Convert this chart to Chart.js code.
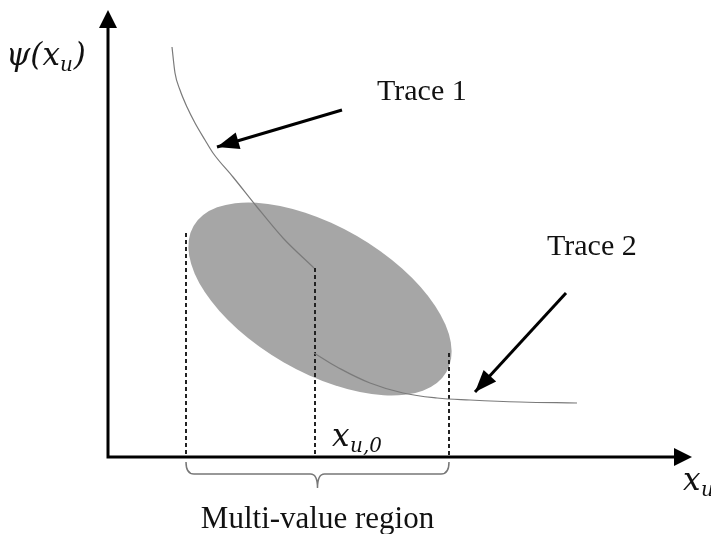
<!DOCTYPE html>
<html>
<head>
<meta charset="utf-8">
<script src="https://cdn.jsdelivr.net/npm/chart.js@4.4.1/dist/chart.umd.min.js"></script>
<style>
  html, body { margin: 0; padding: 0; background: #fff; }
  #wrap { width: 711px; height: 534px; position: relative; }
</style>
</head>
<body>
<div id="wrap"><canvas id="canvas"></canvas></div>
<script>
// values, in axis units (origin at the corner of the axes)
const trace1X = [64, 67, 72, 79, 87, 97, 105, 125, 149, 175, 206];
const trace1Y = [410, 384, 367, 350, 334, 317, 304, 280, 250, 219, 189];
const trace2X = [206, 229, 262, 295, 329, 362, 412, 469];
const trace2Y = [104, 90, 74, 64, 59, 57, 55, 54];

// vertical dashed guides: x position and top of each
const guideX = [78, 207, 341];
const guideTop = [224, 189, 104];

// shaded multi-value region (centre, semi axes, tilt in degrees)
const blobCentre = [212, 158];
const blobAxes = [146, 73];
const blobTilt = -30;

// pointer arrows [fromX, fromY, toX, toY]
const arrow1 = [234, 347, 109, 310];
const arrow2 = [458, 164, 367, 65];

const xMax = 584, yMax = 447;

const toPts = (xs, ys) => xs.map((x, i) => ({ x: x, y: ys[i] }));

const datasets = [
  { data: toPts(trace1X, trace1Y), borderColor: '#7a7a7a', borderWidth: 1.2, cubicInterpolationMode: 'monotone' },
  { data: toPts(trace2X, trace2Y), borderColor: '#7a7a7a', borderWidth: 1.2, tension: 0.4 }
];
guideX.forEach((x, i) => {
  datasets.push({ data: [{ x: x, y: guideTop[i] }, { x: x, y: 0 }], borderColor: '#222', borderWidth: 2, borderDash: [4, 3] });
});
[arrow1, arrow2].forEach(a => {
  datasets.push({ data: [{ x: a[0], y: a[1] }, { x: a[2], y: a[3] }], borderColor: '#000', borderWidth: 3 });
});
datasets.forEach(d => { d.showLine = true; d.pointRadius = 0; d.fill = false; });

function head(ctx, x0, y0, x1, y1, len, wid) {
  const ang = Math.atan2(y1 - y0, x1 - x0);
  ctx.save();
  ctx.translate(x1, y1);
  ctx.rotate(ang);
  ctx.beginPath();
  ctx.moveTo(0, 0);
  ctx.lineTo(-len, -wid / 2);
  ctx.lineTo(-len, wid / 2);
  ctx.closePath();
  ctx.fillStyle = '#000';
  ctx.fill();
  ctx.restore();
}

const drawing = {
  id: 'drawing',
  beforeDatasetsDraw(chart) {
    const { ctx, scales: { x, y } } = chart;
    const cx = x.getPixelForValue(blobCentre[0]);
    const cy = y.getPixelForValue(blobCentre[1]);
    const sx = Math.abs(x.getPixelForValue(1) - x.getPixelForValue(0));
    ctx.save();
    ctx.beginPath();
    ctx.ellipse(cx, cy, blobAxes[0] * sx, blobAxes[1] * sx, -blobTilt * Math.PI / 180, 0, Math.PI * 2);
    ctx.fillStyle = '#a6a6a6';
    ctx.fill();
    ctx.restore();
  },
  afterDraw(chart) {
    const { ctx, chartArea: ca, scales: { x, y } } = chart;
    ctx.save();
    // axes
    ctx.strokeStyle = '#000';
    ctx.lineWidth = 3;
    ctx.beginPath();
    ctx.moveTo(ca.left, ca.top + 12);
    ctx.lineTo(ca.left, ca.bottom);
    ctx.lineTo(ca.right - 12, ca.bottom);
    ctx.stroke();
    head(ctx, ca.left, ca.bottom, ca.left, ca.top, 18, 18);
    head(ctx, ca.left, ca.bottom, ca.right, ca.bottom, 18, 18);

    // arrow heads on the pointers
    [arrow1, arrow2].forEach(a => {
      head(ctx, x.getPixelForValue(a[0]), y.getPixelForValue(a[1]),
        x.getPixelForValue(a[2]), y.getPixelForValue(a[3]), 22, 17);
    });

    // brace under the region
    const bl = x.getPixelForValue(guideX[0]);
    const br = x.getPixelForValue(guideX[2]);
    const bm = x.getPixelForValue((guideX[0] + guideX[2]) / 2);
    const b0 = ca.bottom + 5, b1 = ca.bottom + 17, b2 = ca.bottom + 31;
    ctx.strokeStyle = '#777';
    ctx.lineWidth = 1.5;
    ctx.beginPath();
    ctx.moveTo(bl, b0);
    ctx.quadraticCurveTo(bl, b1, bl + 8, b1);
    ctx.lineTo(bm - 7, b1);
    ctx.quadraticCurveTo(bm, b1, bm, b2);
    ctx.quadraticCurveTo(bm, b1, bm + 7, b1);
    ctx.lineTo(br - 8, b1);
    ctx.quadraticCurveTo(br, b1, br, b0);
    ctx.stroke();

    // texts
    ctx.fillStyle = '#111';
    ctx.textBaseline = 'alphabetic';
    ctx.font = '30px "Liberation Serif", serif';
    ctx.textAlign = 'left';
    ctx.fillText('Trace 1', 377, 100);
    ctx.fillText('Trace 2', 547, 255);
    ctx.textAlign = 'center';
    ctx.font = '31px "Liberation Serif", serif';
    ctx.fillText('Multi-value region', bm, 528);

    const big = 'italic 31px "DejaVu Serif", serif';
    const small = 'italic 20px "DejaVu Serif", serif';
    ctx.textAlign = 'left';
    // psi(x_u)
    ctx.font = big;
    let px = 6;
    ctx.fillText('\u03C8(x', px, 65);
    px += ctx.measureText('\u03C8(x').width;
    ctx.font = small;
    ctx.fillText('u', px, 71);
    px += ctx.measureText('u').width + 1;
    ctx.font = big;
    ctx.fillText(')', px, 65);
    // x_u,0
    ctx.font = big;
    ctx.fillText('x', 332, 446);
    ctx.font = small;
    ctx.fillText('u,0', 332 + 18, 452);
    // x_u
    ctx.font = big;
    ctx.fillText('x', 683, 490);
    ctx.font = small;
    ctx.fillText('u', 701, 496);
    ctx.restore();
  }
};

const chart = new Chart(document.getElementById('canvas').getContext('2d'), {
  type: 'scatter',
  data: { datasets: datasets },
  options: {
    responsive: true,
    maintainAspectRatio: false,
    animation: false,
    layout: { padding: { left: 108, top: 10, right: 19, bottom: 77 } },
    plugins: { legend: { display: false }, tooltip: { enabled: false } },
    scales: {
      x: { type: 'linear', min: 0, max: xMax, display: false },
      y: { type: 'linear', min: 0, max: yMax, display: false }
    }
  },
  plugins: [drawing]
});
</script>
</body>
</html>
